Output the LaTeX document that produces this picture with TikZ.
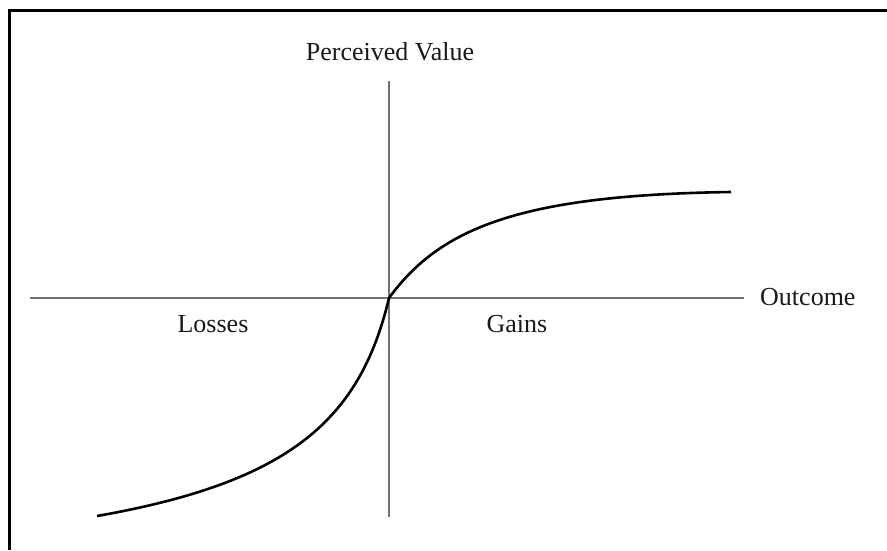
\documentclass[tikz,border=0pt]{standalone}
\usepackage{fontspec}
\setmainfont{Liberation Serif}
\begin{document}
\begin{tikzpicture}[x=1pt,y=-1pt,
  axis/.style={draw=black!55,line width=1.2pt},
  curve/.style={draw=black,line width=2.6pt},
  lbl/.style={font=\fontsize{26}{30}\selectfont,text=black!90,inner sep=0pt}]
\useasboundingbox (0,0) rectangle (887,550);
\draw[line width=3pt] (9,550) -- (9,10) -- (887,10);
\coordinate (xl) at (30,298);
\coordinate (xr) at (744,298);
\coordinate (yt) at (389,81);
\coordinate (yb) at (389,517);
\coordinate (o) at (389,298);
\draw[axis] (xl) -- (xr);
\draw[axis] (yt) -- (yb);
\coordinate (cs) at (97,516);
\coordinate (ce) at (731,192);
\draw[curve] (cs) .. controls (290,482) and (360,420) .. (o)
  .. controls (440,228) and (520,195) .. (ce);
\node[lbl] (pv) at (390,52) {Perceived Value};
\node[lbl,anchor=west] (oc) at (760,297) {Outcome};
\node[lbl] (ls) at (213,324) {Losses};
\node[lbl] (gn) at (517,324) {Gains};
\end{tikzpicture}
\end{document}
